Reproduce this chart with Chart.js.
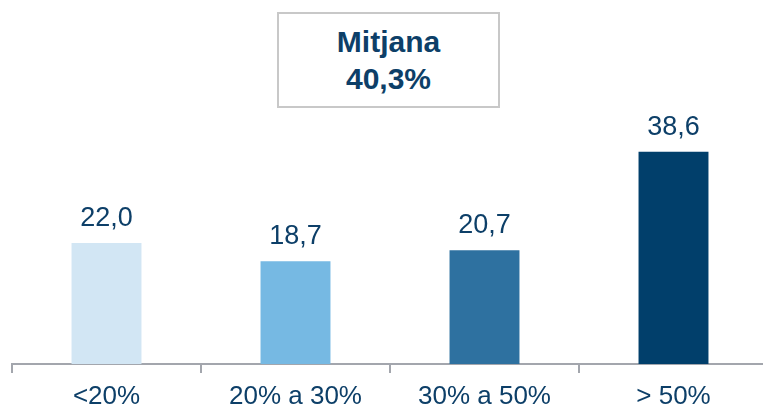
<!DOCTYPE html>
<html>
<head>
<meta charset="utf-8">
<script src="https://cdn.jsdelivr.net/npm/chart.js@4/dist/chart.umd.min.js"></script>
<style>
  html, body { margin: 0; padding: 0; background: #fff; overflow: hidden; }
  .wrap { position: relative; width: 763px; height: 407px; overflow: hidden; }
  #chart { position: absolute; left: 0; top: 0; }
  .mean {
    position: absolute; left: 277px; top: 12px; width: 219px; height: 92px;
    border: 2px solid #c8c8c8; background: #fff;
    display: flex; flex-direction: column; align-items: center; justify-content: center;
    font-family: "Liberation Sans", Arial, sans-serif; font-weight: bold;
    font-size: 30px; line-height: 37px; color: #0d3f68;
  }
</style>
</head>
<body>
<div class="wrap">
  <canvas id="chart" width="770" height="407"></canvas>
  <div class="mean"><span>Mitjana</span><span>40,3%</span></div>
</div>
<script>
const labels = ["<20%", "20% a 30%", "30% a 50%", "> 50%"];
const values = [22.0, 18.7, 20.7, 38.6];
const barColors = ["#d2e6f4", "#76b9e3", "#2e71a0", "#013f6b"];

const textColor = "#0d3f68";
const fontFamily = "'Liberation Sans', Arial, sans-serif";

// value labels above bars (no datalabels plugin offline)
const valueLabels = {
  id: "valueLabels",
  afterDatasetsDraw(chart) {
    const { ctx } = chart;
    const meta = chart.getDatasetMeta(0);
    ctx.save();
    ctx.fillStyle = textColor;
    ctx.font = "27px " + fontFamily;
    ctx.textAlign = "center";
    ctx.textBaseline = "alphabetic";
    meta.data.forEach((bar, i) => {
      const txt = values[i].toFixed(1).replace(".", ",");
      ctx.fillText(txt, bar.x, bar.y - 17);
    });
    ctx.restore();
  },
};

new Chart(document.getElementById("chart"), {
  type: "bar",
  data: {
    labels,
    datasets: [{
      data: values,
      backgroundColor: barColors,
      barPercentage: 0.37,
      categoryPercentage: 1,
    }],
  },
  options: {
    responsive: false,
    animation: false,
    devicePixelRatio: 1,
    layout: { padding: { top: 34, left: 12, right: 2, bottom: 0 } },
    plugins: {
      legend: { display: false },
      tooltip: { enabled: false },
    },
    scales: {
      x: {
        grid: {
          offset: true,
          drawOnChartArea: false,
          drawTicks: true,
          tickLength: 9,
          color: "#a3a6ad",
          lineWidth: 2,
        },
        border: { display: true, color: "#a3a6ad", width: 2 },
        ticks: {
          color: textColor,
          padding: 8,
          font: { family: fontFamily, size: 26 },
        },
        afterFit(axis) { axis.height = 43; },
      },
      y: {
        display: false,
        min: 0,
        max: 60,
      },
    },
  },
  plugins: [valueLabels],
});
</script>
</body>
</html>
